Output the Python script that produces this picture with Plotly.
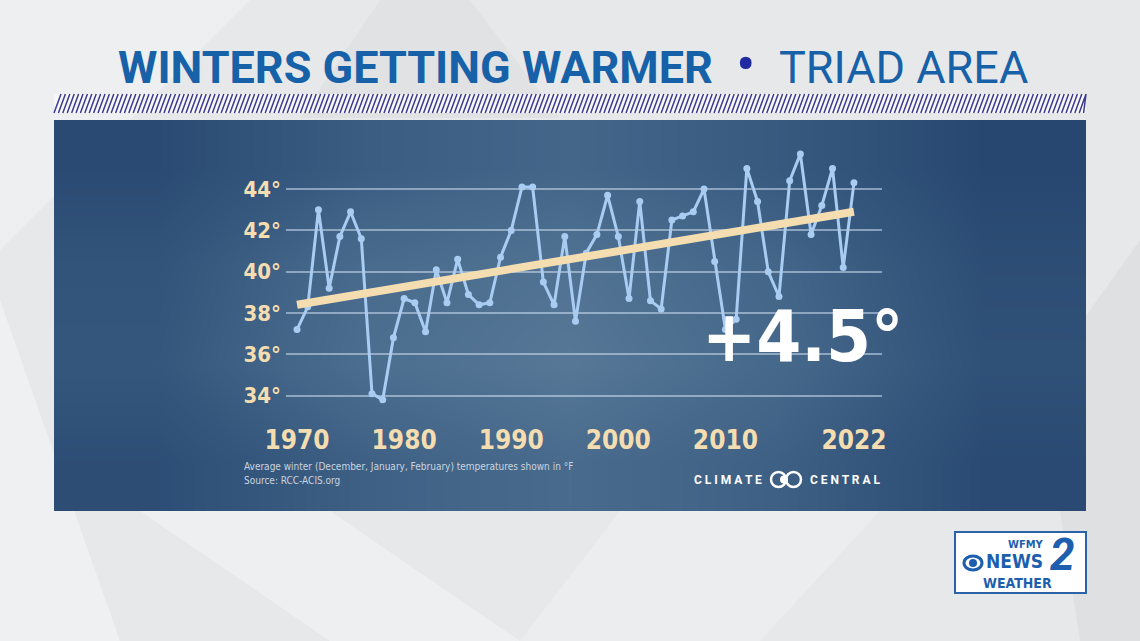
import plotly.graph_objects as go

W, H = 1140, 641

# ---------------- data ----------------
years = list(range(1970, 2023))
temps = [37.2, 38.3, 43.0, 39.2, 41.7, 42.9, 41.6, 34.1, 33.8, 36.8,
         38.7, 38.5, 37.1, 40.1, 38.5, 40.6, 38.9, 38.4, 38.5, 40.7,
         42.0, 44.1, 44.1, 39.5, 38.4, 41.7, 37.6, 40.9, 41.8, 43.7,
         41.7, 38.7, 43.4, 38.6, 38.2, 42.5, 42.7, 42.9, 44.0, 40.5,
         37.2, 37.7, 45.0, 43.4, 40.0, 38.8, 44.4, 45.7, 41.8, 43.2,
         45.0, 40.2, 44.3]
trend_years = [1970, 2022]
trend_vals = [38.4, 42.9]
x_tickvals = [1970, 1980, 1990, 2000, 2010, 2022]
x_ticktext = ["1970", "1980", "1990", "2000", "2010", "2022"]
y_tickvals = [34, 36, 38, 40, 42, 44]
y_ticktext = ["34°", "36°", "38°", "40°", "42°", "44°"]
change_label = "+4.5°"


def px(x):
    return x / W


def py(y):
    return 1 - y / H


CREAM = "#f4ddb0"
LINE = "#a9ccf3"
NARROW = "DejaVu Sans Condensed, Liberation Sans Narrow, Arial Narrow, sans-serif"

fig = go.Figure()

# panel background gradient (decorative) on subplot xy
fig.add_trace(go.Heatmap(
    z=[[0.10, 0.40, 0.60, 0.40, 0.05],
       [0.25, 0.65, 0.85, 0.55, 0.15],
       [0.20, 0.60, 0.75, 0.50, 0.10],
       [0.05, 0.35, 0.50, 0.30, 0.00]],
    x=[0, 1, 2, 3, 4], y=[0, 1, 2, 3],
    zsmooth="best", showscale=False, hoverinfo="skip",
    colorscale=[[0, "#274770"], [0.5, "#436689"], [1, "#5f7f9c"]],
    zmin=0, zmax=1, xaxis="x", yaxis="y"))

# data line
fig.add_trace(go.Scatter(
    x=years, y=temps, mode="lines+markers",
    line=dict(color=LINE, width=3),
    marker=dict(color=LINE, size=7),
    cliponaxis=False, hoverinfo="skip",
    xaxis="x2", yaxis="y2"))

# trend line
fig.add_trace(go.Scatter(
    x=trend_years, y=trend_vals, mode="lines",
    line=dict(color=CREAM, width=8),
    cliponaxis=False, hoverinfo="skip",
    xaxis="x2", yaxis="y2"))


def to_paper_path(path):
    toks = path.split()
    out = []
    i = 0
    while i < len(toks):
        t = toks[i]
        if t in ("M", "L"):
            xx = float(toks[i + 1]); yy = float(toks[i + 2])
            out.append(f"{t} {px(xx):.5f} {py(yy):.5f}")
            i += 3
        else:
            out.append(t)
            i += 1
    return " ".join(out)


shapes = []
# background decorative polygons
bg_polys = [
    ("M 0 300 L 0 641 L 120 641 Z", "rgba(255,255,255,0.35)"),
    ("M 0 0 L 250 0 L 0 250 Z", "rgba(255,255,255,0.30)"),
    ("M 140 511 L 330 641 L 520 641 L 330 511 Z", "rgba(255,255,255,0.30)"),
    ("M 620 511 L 520 641 L 760 641 L 880 511 Z", "rgba(255,255,255,0.22)"),
    ("M 1040 380 L 1140 240 L 1140 641 L 1080 641 Z", "rgba(0,0,0,0.03)"),
    ("M 380 0 L 470 0 L 560 118 L 300 118 Z", "rgba(0,0,0,0.025)"),
]
for p, c in bg_polys:
    shapes.append(dict(type="path", path=to_paper_path(p), xref="paper", yref="paper",
                       fillcolor=c, line=dict(width=0), layer="below"))

# hatched band
band_top, band_bot = 94, 113
segs = []
x = 54.0
while x < 1084:
    x0, x1 = x, min(x + 7.0, 1086)
    segs.append((x0, band_bot, x1, band_top))
    x += 4.4

shapes.append(dict(type="rect", xref="paper", yref="paper",
                   x0=px(54), x1=px(1086), y0=py(band_bot), y1=py(band_top),
                   fillcolor="#f7f7f9", line=dict(width=0), layer="below"))
hpath = " ".join(f"M {px(a):.5f} {py(b):.5f} L {px(c):.5f} {py(d):.5f}" for a, b, c, d in segs)
shapes.append(dict(type="path", path=hpath, xref="paper", yref="paper",
                   line=dict(color="#3d3b8c", width=1.5), layer="above"))

# climate central logo rings
shapes += [
    dict(type="circle", xref="paper", yref="paper",
         x0=px(771), x1=px(786), y0=py(487), y1=py(472),
         line=dict(color="white", width=2.5), layer="above"),
    dict(type="circle", xref="paper", yref="paper",
         x0=px(786), x1=px(801), y0=py(487), y1=py(472),
         line=dict(color="white", width=2.5), layer="above"),
    dict(type="circle", xref="paper", yref="paper",
         x0=px(780), x1=px(788), y0=py(483.5), y1=py(475.5),
         fillcolor="white", line=dict(width=0), layer="above"),
]

# WFMY logo box
shapes.append(dict(type="rect", xref="paper", yref="paper",
                   x0=px(955), x1=px(1086), y0=py(593), y1=py(532),
                   fillcolor="white", line=dict(color="#2a63a8", width=2),
                   layer="above"))
shapes.append(dict(type="circle", xref="paper", yref="paper",
                   x0=px(964), x1=px(982), y0=py(570), y1=py(556),
                   fillcolor="white", line=dict(color="#1d5fae", width=3),
                   layer="above"))
shapes.append(dict(type="circle", xref="paper", yref="paper",
                   x0=px(969), x1=px(977), y0=py(567), y1=py(559),
                   fillcolor="#1d5fae", line=dict(width=0), layer="above"))

BLUE = "#1761a8"
LOGO = "#1d5fae"
ann = [
    dict(text="<b>WINTERS GETTING WARMER</b>", x=px(116), y=py(67), xanchor="left",
         font=dict(family="Roboto, sans-serif", size=45, color=BLUE)),
    dict(text="•", x=px(746), y=py(64), xanchor="center",
         font=dict(family="Roboto, sans-serif", size=58, color="#1f2b9e")),
    dict(text="TRIAD AREA", x=px(777), y=py(67), xanchor="left",
         font=dict(family="Roboto, sans-serif", size=45, color=BLUE)),
    dict(text="<b>" + change_label + "</b>", x=px(802), y=py(336), xanchor="center",
         font=dict(family=NARROW, size=72, color="white")),
    dict(text="Average winter (December, January, February) temperatures shown in °F",
         x=px(242), y=py(466), xanchor="left",
         font=dict(family=NARROW, size=10, color="#c9d4df")),
    dict(text="Source: RCC-ACIS.org", x=px(242), y=py(480), xanchor="left",
         font=dict(family=NARROW, size=10, color="#c9d4df")),
    dict(text="<b>C L I M A T E</b>", x=px(764), y=py(479.5), xanchor="right",
         font=dict(family="Roboto, sans-serif", size=12, color="white")),
    dict(text="<b>C E N T R A L</b>", x=px(808), y=py(479.5), xanchor="left",
         font=dict(family="Roboto, sans-serif", size=12, color="white")),
    dict(text="<b>WFMY</b>", x=px(1026), y=py(544), xanchor="center",
         font=dict(family=NARROW, size=11, color=LOGO)),
    dict(text="<b>NEWS</b>", x=px(1014), y=py(561), xanchor="center",
         font=dict(family=NARROW, size=19, color=LOGO)),
    dict(text="<b><i>2</i></b>", x=px(1062), y=py(555), xanchor="center",
         font=dict(family="Roboto, sans-serif", size=44, color=LOGO)),
    dict(text="<b>WEATHER</b>", x=px(1017), y=py(583), xanchor="center",
         font=dict(family=NARROW, size=14, color=LOGO)),
]
for a in ann:
    a.update(xref="paper", yref="paper", showarrow=False, yanchor="middle")

fig.update_layout(
    width=W, height=H,
    margin=dict(l=0, r=0, t=0, b=0, pad=0, autoexpand=False),
    paper_bgcolor="#e7e8ea",
    plot_bgcolor="rgba(0,0,0,0)",
    showlegend=False,
    shapes=shapes,
    annotations=ann,
    xaxis=dict(domain=[px(54), px(1086)], range=[-0.5, 4.5], visible=False,
               fixedrange=True, automargin=False),
    yaxis=dict(domain=[py(511), py(120)], range=[-0.5, 3.5], visible=False,
               fixedrange=True, automargin=False),
    xaxis2=dict(domain=[px(286), px(882)], range=[1968.97, 2024.62], anchor="y2",
                tickvals=x_tickvals, ticktext=x_ticktext, showgrid=False,
                zeroline=False, showline=False, ticks="", ticklabelstandoff=12,
                automargin=False,
                tickfont=dict(family=NARROW, size=26, color=CREAM, weight="bold")),
    yaxis2=dict(domain=[py(410), py(150)], range=[33.31, 45.89], anchor="x2",
                tickvals=y_tickvals, ticktext=y_ticktext, showgrid=True,
                gridcolor="rgba(205,222,240,0.55)", gridwidth=1.5,
                zeroline=False, showline=False, ticks="", ticklabelstandoff=4,
                automargin=False,
                tickfont=dict(family=NARROW, size=22, color=CREAM, weight="bold")),
)

fig.write_html("out.html")
